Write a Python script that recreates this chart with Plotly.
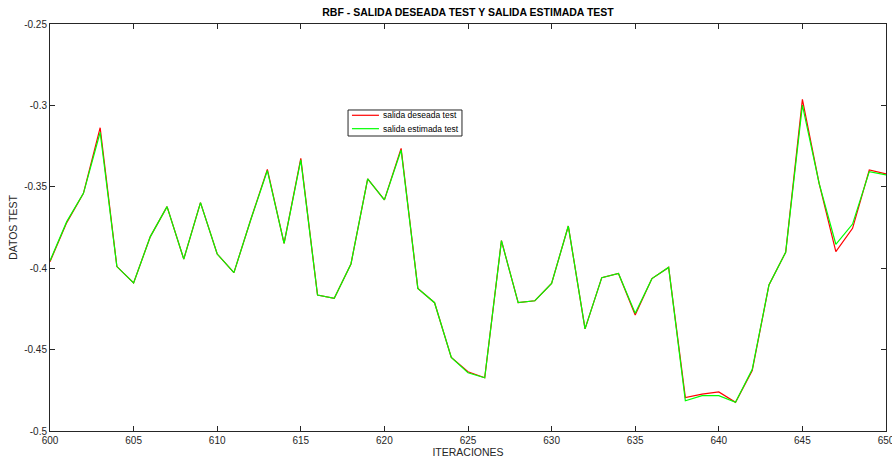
import plotly.graph_objects as go

iteraciones = list(range(600, 651))

salida_deseada = [
    -0.396, -0.372, -0.354, -0.3137, -0.399, -0.409, -0.3806, -0.3622, -0.3944, -0.3597,
    -0.3913, -0.4027, -0.3704, -0.3393, -0.3847, -0.3325, -0.4165, -0.4185, -0.3974, -0.3452,
    -0.358, -0.3264, -0.4124, -0.4212, -0.4548, -0.4636, -0.4673, -0.3831, -0.4212, -0.420,
    -0.4093, -0.3741, -0.4373, -0.4058, -0.4032, -0.4288, -0.4064, -0.3995, -0.4795, -0.4773,
    -0.4760, -0.4824, -0.4629, -0.4103, -0.3902, -0.2963, -0.3479, -0.3898, -0.3755, -0.3397,
    -0.3421,
]

salida_estimada = [
    -0.3955, -0.3714, -0.354, -0.3165, -0.399, -0.409, -0.3806, -0.3622, -0.3944, -0.3597,
    -0.3913, -0.4027, -0.3704, -0.3400, -0.3847, -0.3335, -0.4165, -0.4185, -0.3974, -0.3452,
    -0.358, -0.3274, -0.4124, -0.4212, -0.4548, -0.4642, -0.4673, -0.3831, -0.4212, -0.420,
    -0.4093, -0.3741, -0.4373, -0.4058, -0.4032, -0.4277, -0.4064, -0.3995, -0.4814, -0.4783,
    -0.4783, -0.4824, -0.4621, -0.4103, -0.3902, -0.2998, -0.3479, -0.3853, -0.3729, -0.3407,
    -0.3427,
]

series_names = ["salida deseada test", "salida estimada test"]
series_colors = ["#ff0000", "#00ff00"]

x_ticks = list(range(600, 651, 5))
y_ticks = [-0.5, -0.45, -0.4, -0.35, -0.3, -0.25]
y_tick_labels = ["-0.5", "-0.45", "-0.4", "-0.35", "-0.3", "-0.25"]

axis_color = "#262626"
font_family = "Liberation Sans, Arial, sans-serif"

fig = go.Figure()
for name, color, values in zip(series_names, series_colors, [salida_deseada, salida_estimada]):
    fig.add_trace(go.Scatter(
        x=iteraciones, y=values, mode="lines", name=name,
        line=dict(color=color, width=1.2), showlegend=False,
    ))

# Compact MATLAB-style legend box
fig.add_shape(type="rect", xref="paper", yref="paper",
              x0=0.3565, x1=0.4928, y0=0.7248, y1=0.7887,
              line=dict(color=axis_color, width=1), fillcolor="white", layer="above")
legend_rows_y = [0.7757, 0.7428]
for name, color, ly in zip(series_names, series_colors, legend_rows_y):
    fig.add_shape(type="line", xref="paper", yref="paper",
                  x0=0.3612, x1=0.3935, y0=ly, y1=ly,
                  line=dict(color=color, width=1.2), layer="above")
    fig.add_annotation(xref="paper", yref="paper", x=0.3965, y=ly,
                       text=name, showarrow=False, xanchor="left", yanchor="middle",
                       font=dict(size=8.5, color="#000000"))

fig.update_layout(
    width=892, height=459,
    margin=dict(l=50, r=6, t=24, b=28, autoexpand=False),
    paper_bgcolor="white", plot_bgcolor="white",
    font=dict(family=font_family, size=10, color=axis_color),
    title=dict(
        text="<b>RBF - SALIDA DESEADA TEST Y SALIDA ESTIMADA TEST</b>",
        x=0.5, xref="paper", xanchor="center", y=1, yref="container", yanchor="top", pad=dict(t=9),
        font=dict(size=10.5, color="#000000", family=font_family),
    ),
    showlegend=False,
)

fig.update_xaxes(
    range=[600, 650], tickvals=x_ticks, ticktext=[str(v) for v in x_ticks],
    showgrid=False, zeroline=False, automargin=False,
    showline=True, linecolor=axis_color, linewidth=1, mirror="ticks",
    ticks="inside", ticklen=5, tickcolor=axis_color, ticklabeloverflow="allow",
    title=dict(text="ITERACIONES", standoff=2, font=dict(size=10.5)),
    tickfont=dict(size=10),
)
fig.update_yaxes(
    range=[-0.5, -0.25], tickvals=y_ticks, ticktext=y_tick_labels,
    showgrid=False, zeroline=False, automargin=False,
    showline=True, linecolor=axis_color, linewidth=1, mirror="ticks",
    ticks="inside", ticklen=5, tickcolor=axis_color,
    title=dict(text="DATOS TEST", standoff=4, font=dict(size=10.5)),
    tickfont=dict(size=10),
)

fig.write_html(
    "out.html",
    config={"displayModeBar": False},
    post_script="document.body.style.margin='0';document.body.style.overflow='hidden';",
)
